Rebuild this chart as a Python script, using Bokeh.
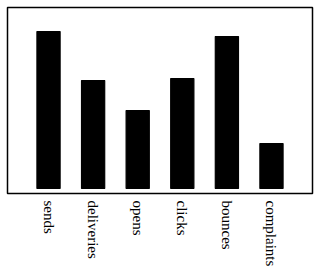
import math
from bokeh.plotting import figure
from bokeh.models import ColumnDataSource, FactorRange
from bokeh.embed import file_html
from bokeh.resources import INLINE

categories = ["sends", "deliveries", "opens", "clicks", "bounces", "complaints"]
values = [157, 108, 78, 110, 152, 45]

source = ColumnDataSource(data=dict(cat=categories, val=values))

p = figure(
    width=320, height=274,
    x_range=FactorRange(factors=categories, range_padding=0.14, range_padding_units="percent"),
    y_range=(-5, 181),
    output_backend="svg", toolbar_location=None,
    min_border_left=7, min_border_right=8, min_border_top=7, min_border_bottom=81,
)
p.vbar(x="cat", top="val", bottom=0, width=0.52, source=source,
       fill_color="black", line_color="black", line_width=1.2)

p.outline_line_color = "black"
p.outline_line_width = 1.5
p.grid.visible = False
p.yaxis.visible = False
ax = p.xaxis[0]
ax.axis_line_color = None
ax.major_tick_line_color = None
ax.minor_tick_line_color = None
ax.major_tick_out = 0
ax.major_label_orientation = -math.pi / 2
ax.major_label_standoff = 7
ax.major_label_text_font = "Liberation Serif"
ax.major_label_text_font_size = "15px"
ax.major_label_text_color = "black"
p.background_fill_color = "white"
p.border_fill_color = "white"

open("out.html", "w").write(file_html(p, INLINE))
